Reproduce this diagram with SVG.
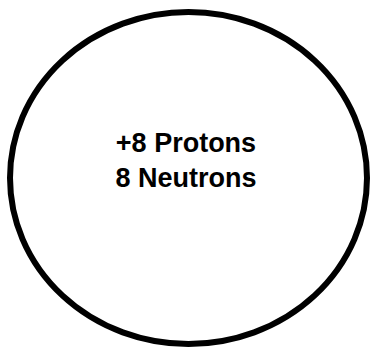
<svg xmlns="http://www.w3.org/2000/svg" width="372" height="348" viewBox="0 0 372 348">
<style>
.t{font-family:"Liberation Sans",Arial,sans-serif;font-weight:bold;font-size:27px;fill:#000;text-anchor:middle}
</style>
<rect width="372" height="348" fill="#fff"/>
<g id="nucleus">
<ellipse cx="188.5" cy="178" rx="178.5" ry="166" fill="#fff" stroke="#000" stroke-width="6"/>
<text class="t" x="186" y="152">+8 Protons</text>
<text class="t" x="186" y="187">8 Neutrons</text>
</g>
</svg>
